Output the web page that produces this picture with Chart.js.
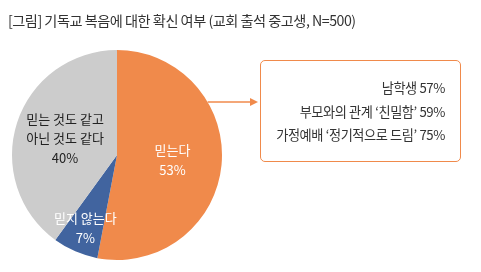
<!DOCTYPE html>
<html>
<head>
<meta charset="utf-8">
<script src="https://cdn.jsdelivr.net/npm/chart.js@4.4.0/dist/chart.umd.min.js"></script>
<style>
  html, body { margin: 0; padding: 0; background: #fff; }
  body { width: 481px; height: 272px; position: relative; overflow: hidden;
         font-family: "Noto Sans CJK KR", "Noto Sans", sans-serif; color: #333; }
  #wrap { position: absolute; left: 0; top: 0; width: 481px; height: 272px; }
  .title { position: absolute; left: 8px; top: 10px; font-size: 14.2px; letter-spacing: -0.5px; color: #333; white-space: nowrap; line-height: 20px; }
  .box { position: absolute; left: 260px; top: 60px; width: 199px; height: 100px;
         border: 1.5px solid #F08A4B; border-radius: 5px; }
  .box div { position: absolute; right: 15px; font-size: 13.2px; letter-spacing: -0.4px; color: #333; white-space: nowrap; line-height: 18px; }
</style>
</head>
<body>
<div id="wrap"><canvas id="myChart" width="481" height="272"></canvas></div>
<div class="title" id="title"></div>
<div class="box" id="box"></div>
<script>
const titleText = '[그림] 기독교 복음에 대한 확신 여부 (교회 출석 중고생, N=500)';
const labels = [['믿는다'], ['믿지 않는다'], ['믿는 것도 같고', '아닌 것도 같다']];
const values = [53, 7, 40];
const colors = ['#F08A4B', '#41649F', '#CCCCCC'];
const labelColors = ['#ffffff', '#ffffff', '#222222'];
const labelRadius = [0.53, 0.76, 0.52];
const boxLines = ['남학생 57%', '부모와의 관계 ‘친밀함’ 59%', '가정예배 ‘정기적으로 드림’ 75%'];

document.getElementById('title').textContent = titleText;
const box = document.getElementById('box');
boxLines.forEach(function(t, i){
    const d = document.createElement('div');
    d.textContent = t;
    d.style.top = (18 + i * 23.5) + 'px';
    box.appendChild(d);
});

const sliceLabels = {
    id: 'sliceLabels',
    afterDatasetsDraw(chart) {
        const ctx = chart.ctx;
        const arcs = chart.getDatasetMeta(0).data;
        ctx.save();
        ctx.font = '13px "Noto Sans CJK KR"';
        ctx.textAlign = 'center';
        ctx.textBaseline = 'middle';
        arcs.forEach(function(arc, i){
            const mid = (arc.startAngle + arc.endAngle) / 2;
            const r = arc.outerRadius * labelRadius[i];
            const x = arc.x + Math.cos(mid) * r;
            const y = arc.y + Math.sin(mid) * r;
            const lines = labels[i].concat([values[i] + '%']);
            const lh = 19.5;
            ctx.fillStyle = labelColors[i];
            lines.forEach(function(l, j){
                ctx.fillText(l, x, y + (j - (lines.length - 1) / 2) * lh);
            });
        });
        // arrow to the callout box
        const a = arcs[0];
        const y0 = 102;
        const dy = y0 - a.y;
        const x0 = a.x + Math.sqrt(a.outerRadius * a.outerRadius - dy * dy);
        ctx.strokeStyle = '#F08A4B';
        ctx.fillStyle = '#F08A4B';
        ctx.lineWidth = 1.5;
        ctx.beginPath();
        ctx.moveTo(x0, y0);
        ctx.lineTo(252, y0);
        ctx.stroke();
        ctx.beginPath();
        ctx.moveTo(258, y0);
        ctx.lineTo(250, y0 - 4);
        ctx.lineTo(250, y0 + 4);
        ctx.closePath();
        ctx.fill();
        ctx.restore();
    }
};

new Chart(document.getElementById('myChart'), {
    type: 'pie',
    data: {
        labels: labels.map(function(l){ return l.join(' '); }),
        datasets: [{
            data: values,
            backgroundColor: colors,
            borderWidth: 0
        }]
    },
    options: {
        responsive: false,
        animation: false,
        layout: { padding: { left: 12, right: 259, top: 50, bottom: 12 } },
        plugins: {
            legend: { display: false },
            tooltip: { enabled: false }
        }
    },
    plugins: [sliceLabels]
});
</script>
</body>
</html>
